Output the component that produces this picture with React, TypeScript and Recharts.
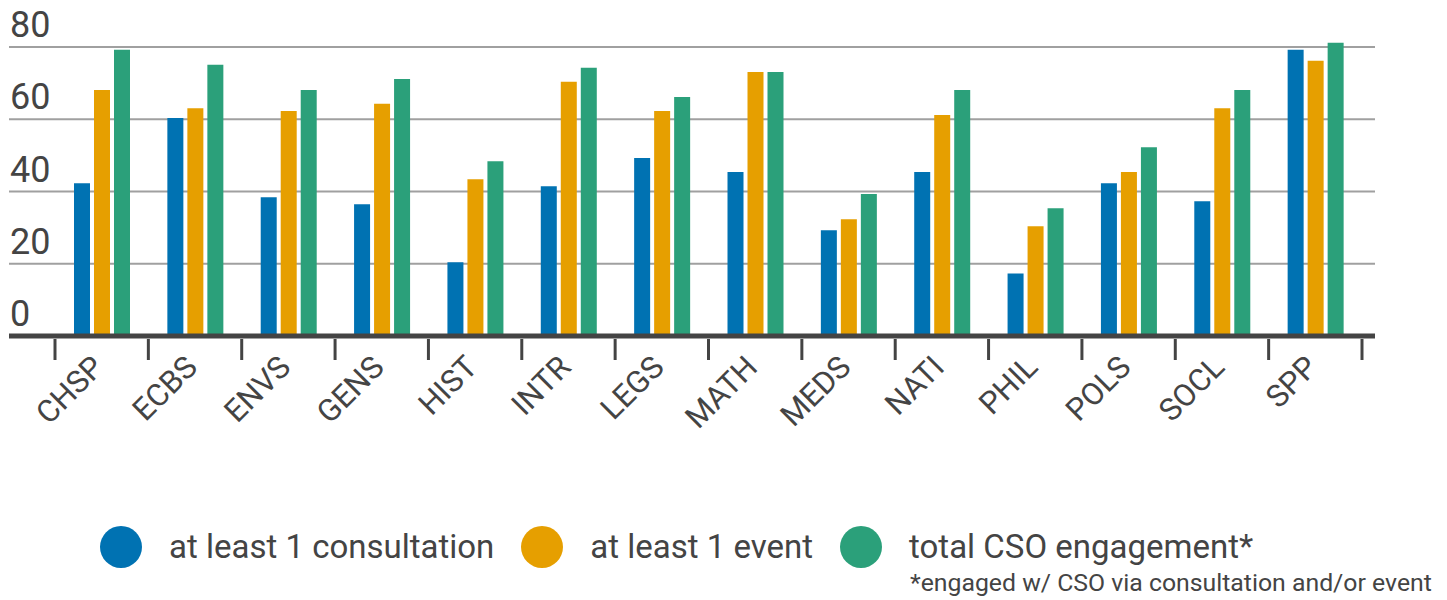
import { BarChart, Bar, XAxis, YAxis, CartesianGrid } from 'recharts';

const departments = ['CHSP', 'ECBS', 'ENVS', 'GENS', 'HIST', 'INTR', 'LEGS', 'MATH', 'MEDS', 'NATI', 'PHIL', 'POLS', 'SOCL', 'SPP'];
const consultation = [42.3, 60.4, 38.4, 36.5, 20.4, 41.5, 49.3, 45.4, 29.3, 45.4, 17.3, 42.3, 37.3, 79.3];
const event = [68.1, 63.1, 62.3, 64.3, 43.4, 70.4, 62.3, 73.1, 32.3, 61.2, 30.4, 45.4, 63.1, 76.2];
const totalEngagement = [79.3, 75.1, 68.1, 71.2, 48.4, 74.3, 66.2, 73.1, 39.3, 68.1, 35.4, 52.3, 68.1, 81.2];
const yTicks = [0, 20, 40, 60, 80];

const seriesNames = ['at least 1 consultation', 'at least 1 event', 'total CSO engagement*'];
const seriesKeys = ['consultation', 'event', 'total'];
const colors = ['#0072B2', '#E69F00', '#2BA07A'];
const footnote = '*engaged w/ CSO via consultation and/or event';

const chartData = departments.map((dept, i) => ({
  dept,
  consultation: consultation[i],
  event: event[i],
  total: totalEngagement[i],
}));

const TEXT = '#444444';
const FONT = 'Roboto, sans-serif';
// plot runs x 9..1375, padding 46 left / 13 right
const BAND = (1375 - 9 - 46 - 13) / departments.length;

function DeptTick(props: any) {
  const { x, y, payload, index } = props;
  const tx = x + 4;
  const ty = y + 33;
  return (
    <g>
      <line x1={x - BAND / 2} x2={x - BAND / 2} y1={y + 3} y2={y + 24} stroke={TEXT} strokeWidth={3} />
      {index === departments.length - 1 && (
        <line x1={x + BAND / 2} x2={x + BAND / 2} y1={y + 3} y2={y + 24} stroke={TEXT} strokeWidth={3} />
      )}
      <text
        x={tx}
        y={ty}
        textAnchor="end"
        fontSize={31}
        fontFamily={FONT}
        fill={TEXT}
        transform={`rotate(-45, ${tx}, ${ty})`}
      >
        {payload.value}
      </text>
    </g>
  );
}

function ValueTick(props: any) {
  const { y, payload } = props;
  return (
    <text x={10} y={y - 10} textAnchor="start" fontSize={36} fontFamily={FONT} fill={TEXT}>
      {payload.value}
    </text>
  );
}

export default function App() {
  return (
    <div style={{ position: 'absolute', left: 0, top: 0, width: 1447, height: 600, background: '#fff', fontFamily: FONT }}>
      <BarChart
        width={1447}
        height={600}
        data={chartData}
        margin={{ top: 11, right: 72, left: 0, bottom: 164 }}
        barSize={16}
        barGap={4}
      >
        <CartesianGrid vertical={false} horizontalValues={yTicks} stroke="#A0A0A0" strokeWidth={2} />
        <XAxis
          dataKey="dept"
          interval={0}
          height={100}
          padding={{ left: 46, right: 13 }}
          tickSize={0}
          tickMargin={0}
          tickLine={false}
          axisLine={{ stroke: TEXT, strokeWidth: 5 }}
          tick={DeptTick}
        />
        <YAxis
          width={9}
          domain={[0, 90]}
          ticks={yTicks}
          interval={0}
          axisLine={false}
          tickLine={false}
          tick={ValueTick}
        />
        {seriesKeys.map((key, i) => (
          <Bar key={key} dataKey={key} name={seriesNames[i]} fill={colors[i]} isAnimationActive={false} />
        ))}
      </BarChart>
      <div style={{ position: 'absolute', left: 100, top: 526, display: 'flex', alignItems: 'center', height: 42 }}>
        {seriesNames.map((name, i) => (
          <div key={name} style={{ display: 'flex', alignItems: 'center', marginRight: 27 }}>
            <span style={{ width: 42, height: 42, borderRadius: '50%', background: colors[i], display: 'inline-block' }} />
            <span style={{ marginLeft: 27, fontSize: 33, color: TEXT, lineHeight: '42px', whiteSpace: 'nowrap' }}>{name}</span>
          </div>
        ))}
      </div>
      <div style={{ position: 'absolute', left: 910, top: 568, fontSize: 24.8, color: TEXT, lineHeight: '30px', whiteSpace: 'nowrap' }}>
        {footnote}
      </div>
    </div>
  );
}
